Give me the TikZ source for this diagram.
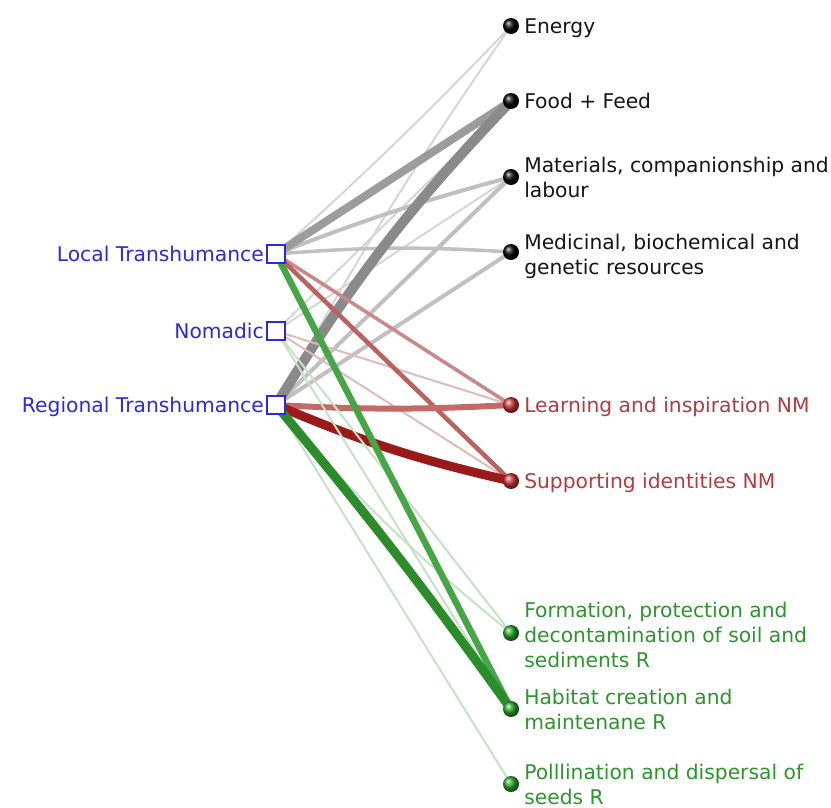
\documentclass[tikz,border=0pt]{standalone}
\usepackage{fontspec}
\setmainfont{DejaVu Sans}

\pgfdeclarelayer{paper}
\pgfdeclarelayer{edges}
\pgfsetlayers{paper,edges,main}

\definecolor{srcblue}{RGB}{42,42,222}
\definecolor{provtext}{RGB}{22,22,22}
\definecolor{nmtext}{RGB}{182,58,62}
\definecolor{regtext}{RGB}{44,150,44}
\definecolor{nmball}{RGB}{205,50,55}
\definecolor{regball}{RGB}{40,165,40}
% provisioning links
\definecolor{gthin}{RGB}{214,214,214}
\definecolor{gmid}{RGB}{192,192,192}
\definecolor{gdark}{RGB}{156,156,156}
\definecolor{gdarker}{RGB}{138,138,138}
% non-material links
\definecolor{rthin}{RGB}{226,186,186}
\definecolor{rmid}{RGB}{204,136,136}
\definecolor{rmid2}{RGB}{186,98,98}
\definecolor{rlight}{RGB}{196,104,104}
\definecolor{rdark}{RGB}{154,26,26}
% regulating links
\definecolor{grthin}{RGB}{198,226,198}
\definecolor{grmid}{RGB}{70,166,70}
\definecolor{grdark}{RGB}{44,140,44}

\tikzset{
  src/.style={draw=srcblue, fill=white, line width=1.2pt, minimum size=13.5pt, inner sep=0pt},
  srclabel/.style={anchor=east, inner sep=0pt, text=srcblue},
  sphere/.style={circle, inner sep=0pt, minimum size=12pt, shading=ball, ball color=#1},
  tlabel/.style={anchor=west, inner sep=0pt, align=left, text=#1},
  link/.style={line width=#1*0.75pt, line cap=round},
}

\begin{document}
\begin{tikzpicture}[x=0.75pt, y=-0.75pt, font=\fontsize{15.2}{18.75}\selectfont]
\begin{pgfonlayer}{paper}
  \fill[white] (0,0) rectangle (831,807);
\end{pgfonlayer}
\useasboundingbox (0,0) rectangle (831,807);

% livestock systems
\node[src] (LT) at (276,254) {};
\node[src] (NO) at (276,331) {};
\node[src] (RT) at (276,405) {};
\node[srclabel] (LTl) at (264,256.5) {\strut Local Transhumance};
\node[srclabel] (NOl) at (264,333.5) {\strut Nomadic};
\node[srclabel] (RTl) at (264,407.5) {\strut Regional Transhumance};

% ecosystem services
\node[sphere=black] (en) at (511,26) {};
\node[sphere=black] (ff) at (511,101) {};
\node[sphere=black] (ma) at (511,177) {};
\node[sphere=black] (me) at (511,252) {};
\node[sphere=nmball] (le) at (511,405) {};
\node[sphere=nmball] (su) at (511,481) {};
\node[sphere=regball] (fo) at (511,633) {};
\node[sphere=regball] (ha) at (511,709) {};
\node[sphere=regball] (po) at (511,784) {};

\node[tlabel=provtext] (enl) at (524,28.5) {\strut Energy};
\node[tlabel=provtext] (ffl) at (524,103.5) {\strut Food + Feed};
\node[tlabel=provtext] (mal) at (524,179.5) {\strut Materials, companionship and\\\strut labour};
\node[tlabel=provtext] (mel) at (524,256.5) {\strut Medicinal, biochemical and\\\strut genetic resources};
\node[tlabel=nmtext] (lel) at (524,407.5) {\strut Learning and inspiration NM};
\node[tlabel=nmtext] (sul) at (524,483.5) {\strut Supporting identities NM};
\node[tlabel=regtext] (fol) at (524,637.5) {\strut Formation, protection and\\\strut decontamination of soil and\\\strut sediments R};
\node[tlabel=regtext] (hal) at (524,711.5) {\strut Habitat creation and\\\strut maintenane R};
\node[tlabel=regtext] (pol) at (524,786.5) {\strut Polllination and dispersal of\\\strut seeds R};

\begin{pgfonlayer}{edges}
  % provisioning
  \draw[link=2, gthin] (LT.center) to[bend right=2] (en.center);
  \draw[link=2, gthin] (RT.center) to[bend left=3] (en.center);
  \draw[link=2, gthin] (NO.center) to (ff.center);
  \draw[link=2, gthin] (NO.center) to (ma.center);
  \draw[link=4, gmid] (LT.center) to[bend left=3] (ma.center);
  \draw[link=4, gmid] (RT.center) to (ma.center);
  \draw[link=3.5, gmid] (LT.center) to[bend left=4] (me.center);
  \draw[link=4, gmid] (RT.center) to (me.center);
  \draw[link=8, gdark] (LT.center) to (ff.center);
  \draw[link=10, gdarker] (RT.center) to[bend left=6] (ff.center);
  % non-material
  \draw[link=2, rthin] (NO.center) to (le.center);
  \draw[link=2, rthin] (NO.center) to (su.center);
  \draw[link=3.5, rmid] (LT.center) to (le.center);
  \draw[link=4.5, rmid2] (LT.center) to (su.center);
  \draw[link=6, rlight] (RT.center) to[bend right=3] (le.center);
  \draw[link=9, rdark] (RT.center) to[bend right=5] (su.center);
  % regulating
  \draw[link=2, grthin] (NO.center) to (fo.center);
  \draw[link=2, grthin] (NO.center) to (ha.center);
  \draw[link=2, grthin] (RT.center) to[bend right=5] (fo.center);
  \draw[link=2, grthin] (RT.center) to (po.center);
  \draw[link=6.5, grmid] (LT.center) to (ha.center);
  \draw[link=9, grdark] (RT.center) to[bend left=2] (ha.center);
\end{pgfonlayer}
\end{tikzpicture}
\end{document}
